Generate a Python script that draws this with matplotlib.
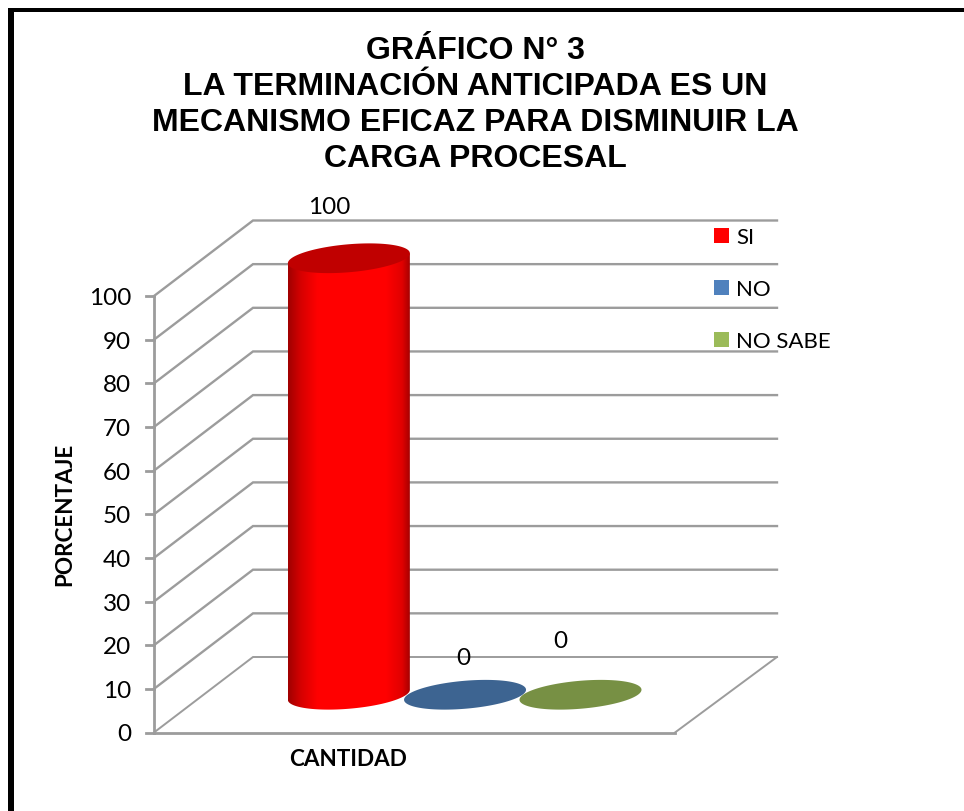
import numpy as np
import matplotlib
matplotlib.use("Agg")
import matplotlib.pyplot as plt
from matplotlib.colors import LinearSegmentedColormap
from matplotlib.patches import Patch, Polygon, Rectangle

title_lines = ["GRÁFICO N° 3", "LA TERMINACIÓN ANTICIPADA ES UN",
               "MECANISMO EFICAZ PARA DISMINUIR LA", "CARGA PROCESAL"]
series_names = ["SI", "NO", "NO SABE"]
series_values = [100, 0, 0]
series_positions = [0.279, 0.502, 0.7236]
y_ticks = [0, 10, 20, 30, 40, 50, 60, 70, 80, 90, 100]
x_category = "CANTIDAD"
y_title = "PORCENTAJE"
legend_colors = ["#FF0000", "#4F81BD", "#9BBB59"]
cap_colors = ["#C00000", "#3D6491", "#779044"]

W, H = 964, 812
X0, X1 = 154, 675      # front floor edge, pixels
Y0, Y100 = 733.5, 297  # front axis, pixels
DEPTH_X, DEPTH_Y = 99, 75.5
BACK_EXT = 3           # back wall runs slightly wider than the floor edge
sx = X1 - X0
sy = (Y0 - Y100) / 100
ddx, ddy = DEPTH_X / sx, DEPTH_Y / sy

fig = plt.figure(figsize=(W / 100, H / 100), dpi=100, facecolor="white")
ax = fig.add_axes([0, 0, 1, 1])
ax.axis("off")
xlim = (-X0 / sx, (W - X0) / sx)
ylim = (-(H - Y0) / sy, Y0 / sy)

GRID = "#9C9C9C"
for v in y_ticks:
    ax.plot([0, ddx, 1 + ddx + BACK_EXT / sx], [v, v + ddy, v + ddy], color=GRID,
            lw=1.7 if v else 1.4, solid_joinstyle="miter", zorder=1)
    ax.plot([-8 / sx, 0], [v, v], color=GRID, lw=2, zorder=1)
    fig.text(131 / W, 1 - (Y0 - v * sy + 1.5) / H, str(v), ha="right", va="center",
             fontsize=17.5, family="Lato", color="black")
ax.plot([0, 0], [0, 100], color=GRID, lw=2, zorder=1)
ax.plot([0, 1], [0, 0], color=GRID, lw=2, zorder=1)
ax.plot([1, 1 + ddx + BACK_EXT / sx], [0, ddy], color=GRID, lw=1.4, zorder=1)

RX, RY, SHEAR = 61 / sx, 14 / sy, 5 / sy
DX_C, DY_C = 0.5 * DEPTH_X / sx, 0.5 * DEPTH_Y / sy
t = np.linspace(0, 2 * np.pi, 181)


def cap(cx, val):
    return (cx + RX * np.cos(t), val + RY * np.sin(t) + SHEAR * np.cos(t))


cmap = LinearSegmentedColormap.from_list(
    "cyl", [(0, "#A00000"), (0.1, "#D40000"), (0.24, "#FF0000"),
            (0.8, "#FF0000"), (0.93, "#E00000"), (1, "#A00000")])
for pos, val, cap_col in zip(series_positions, series_values, cap_colors):
    cx = pos + DX_C
    base = DY_C
    top = val + DY_C
    if val > 0:
        tb = np.linspace(np.pi, 2 * np.pi, 90)
        xb = cx + RX * np.cos(tb)
        yb = base - RY * np.abs(np.sin(tb)) + SHEAR * np.cos(tb)
        tt = np.linspace(0, np.pi, 90)
        xu = cx + RX * np.cos(tt)
        yu = top + SHEAR * np.cos(tt)
        outline = np.column_stack([np.r_[xb, xu], np.r_[yb, yu]])
        im = ax.imshow(np.linspace(0, 1, 256)[None, :], cmap=cmap, aspect="auto",
                       extent=(cx - RX, cx + RX, base - 20, top + 20), zorder=3)
        clip = Polygon(outline, closed=True, transform=ax.transData,
                       fc="none", ec="none")
        ax.add_patch(clip)
        im.set_clip_path(clip)
    x_c, y_c = cap(cx, top)
    ax.fill(x_c, y_c, color=cap_col, lw=0, zorder=4)

label_xy = [(329, 208), (463, 659), (560, 642)]
for val, (px, py) in zip(series_values, label_xy):
    fig.text(px / W, 1 - py / H, str(val), ha="center", va="center",
             fontsize=17.5, family="Lato", color="black")

ax.set_xlim(xlim)
ax.set_ylim(ylim)

handles = [Patch(fc=c, ec="none") for c in legend_colors]
fig.legend(handles, series_names, loc="upper left",
           bbox_to_anchor=(714 / W, 1 - 228 / H), borderaxespad=0, borderpad=0,
           frameon=False, labelspacing=1.45,
           handlelength=0.68, handleheight=0.68, handletextpad=0.32,
           prop={"family": "Lato", "size": 16})

for line, py in zip(title_lines, [51, 87, 123, 159]):
    fig.text(475 / W, 1 - py / H, line, ha="center", va="center",
             fontsize=23.05, fontweight="bold", family="Liberation Sans")

fig.text(348 / W, 1 - 760 / H, x_category, ha="center", va="center",
         fontsize=16.2, fontweight="bold", family="Lato")
fig.text(65 / W, 1 - 514 / H, y_title, ha="center", va="center", rotation=90,
         fontsize=16.2, fontweight="bold", family="Lato")

fig.add_artist(Rectangle((8 / W, 0), 6 / W, 1 - 9 / H, transform=fig.transFigure,
                         fc="black", ec="none"))
fig.add_artist(Rectangle((8 / W, 1 - 13 / H), 1 - 8 / W, 4 / H,
                         transform=fig.transFigure, fc="black", ec="none"))

fig.savefig("out.png", dpi=100, facecolor="white")
